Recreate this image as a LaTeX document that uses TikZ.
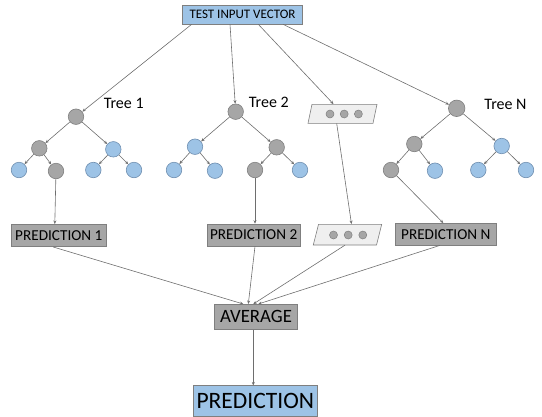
\documentclass[tikz,border=0pt]{standalone}
\usepackage{fontspec}
\setmainfont{Carlito}
\usetikzlibrary{arrows.meta}
\definecolor{leafblue}{HTML}{9DC3E6}
\definecolor{blueedge}{HTML}{6F8FB0}
\definecolor{nodegray}{HTML}{A6A6A6}
\definecolor{grayedge}{HTML}{7F7F7F}
\definecolor{linegray}{HTML}{6E6E6E}
\definecolor{pale}{HTML}{EFEFEF}
\tikzset{
  gnode/.style={circle, fill=nodegray, draw=grayedge, line width=0.6pt, minimum size=15.5pt, inner sep=0pt},
  bnode/.style={circle, fill=leafblue, draw=blueedge, line width=0.6pt, minimum size=15.5pt, inner sep=0pt},
  dot/.style={circle, fill=nodegray, draw=grayedge, line width=0.5pt, minimum size=8pt, inner sep=0pt},
  link/.style={draw=linegray, line width=0.6pt, -{Stealth[length=3.5pt,width=3pt]}},
  graybox/.style={rectangle, fill=nodegray, draw=grayedge, line width=0.6pt, inner sep=0pt, text=black},
  bluebox/.style={rectangle, fill=leafblue, draw=grayedge, line width=0.6pt, inner sep=0pt, text=black},
  hole/.style={rectangle, draw=none, inner sep=0pt},
  slab/.style={fill=pale, draw=grayedge, line width=0.6pt},
  treelabel/.style={anchor=base, inner sep=0pt, font=\fontsize{16}{18}\selectfont}
}
\begin{document}
\begin{tikzpicture}[x=1pt, y=-1pt]
\useasboundingbox (0,0) rectangle (542,416);

% input vector
\node[bluebox, minimum width=120.4pt, minimum height=19pt, font=\fontsize{13}{15}\selectfont] (in) at (242.5,14.5) {TEST INPUT VECTOR};

% tree 1
\node[gnode] (r1) at (76,116.7) {};
\node[gnode] (a1) at (39.3,148.3) {};
\node[bnode] (b1) at (113.3,149.3) {};
\node[bnode] (a1l) at (19,170) {};
\node[gnode] (a1r) at (56,171) {};
\node[bnode] (b1l) at (93.3,170) {};
\node[bnode] (b1r) at (134,170) {};
\node[treelabel] (t1) at (123.7,108.3) {Tree 1};

% tree 2
\node[gnode] (r2) at (235.7,111.7) {};
\node[bnode] (a2) at (195,146.7) {};
\node[gnode] (b2) at (276.7,147.3) {};
\node[bnode] (a2l) at (174,170) {};
\node[bnode] (a2r) at (215,170.7) {};
\node[gnode] (b2l) at (255,170) {};
\node[bnode] (b2r) at (300,170) {};
\node[treelabel] (t2) at (268.8,107.3) {Tree 2};

% tree N
\node[gnode, minimum size=16.5pt] (r3) at (456.7,108.3) {};
\node[gnode] (a3) at (414.3,144) {};
\node[bnode] (b3) at (501.7,146) {};
\node[gnode] (a3l) at (391,170) {};
\node[bnode] (a3r) at (435,170.7) {};
\node[bnode] (b3l) at (478.3,170) {};
\node[bnode] (b3r) at (526,170) {};
\node[treelabel] (t3) at (505.5,109) {Tree N};

% "more trees" placeholders
\node[hole, minimum width=65pt, minimum height=19pt] (e1) at (342.5,113.8) {};
\draw[slab] (312,104.3) -- (377,104.3) -- (373,123.3) -- (308,123.3) -- cycle;
\node[dot] (e1a) at (330,114) {};
\node[dot] (e1b) at (344.2,114) {};
\node[dot] (e1c) at (358.4,114) {};

\node[hole, minimum width=68pt, minimum height=20.7pt] (e2) at (347.5,234.6) {};
\draw[slab] (318.5,224.3) -- (381.7,224.3) -- (376.5,245) -- (313.3,245) -- cycle;
\node[dot] (e2a) at (333.5,235) {};
\node[dot] (e2b) at (348.2,235) {};
\node[dot] (e2c) at (362.8,235) {};

% predictions
\node[graybox, minimum width=94.3pt, minimum height=22.4pt, font=\fontsize{15.2}{17}\selectfont] (p1) at (58.8,235.5) {PREDICTION 1};
\node[graybox, minimum width=92.7pt, minimum height=22pt, font=\fontsize{15.2}{17}\selectfont] (p2) at (253.7,235) {PREDICTION 2};
\node[graybox, minimum width=101.7pt, minimum height=21.7pt, font=\fontsize{15.2}{17}\selectfont] (pn) at (445.8,234.2) {PREDICTION N};

\node[graybox, minimum width=83.4pt, minimum height=25pt, font=\fontsize{18.8}{21}\selectfont] (avg) at (256,316.8) {AVERAGE};
\node[bluebox, minimum width=124pt, minimum height=30.5pt, font=\fontsize{23.5}{26}\selectfont] (out) at (255.3,401) {PREDICTION};

% input to each tree
\draw[link] ([xshift=-50.8pt]in.south) -- (r1);
\draw[link] ([xshift=-12.5pt]in.south) -- (r2);
\draw[link] ([xshift=15.8pt]in.south) -- ([xshift=-9pt]e1.north);
\draw[link] ([xshift=40.5pt]in.south) -- (r3);

% tree edges
\draw[link] (r1) -- (a1);
\draw[link] (r1) -- (b1);
\draw[link] (a1) -- (a1l);
\draw[link] (a1) -- (a1r);
\draw[link] (b1) -- (b1l);
\draw[link] (b1) -- (b1r);

\draw[link] (r2) -- (a2);
\draw[link] (r2) -- (b2);
\draw[link] (a2) -- (a2l);
\draw[link] (a2) -- (a2r);
\draw[link] (b2) -- (b2l);
\draw[link] (b2) -- (b2r);

\draw[link] (r3) -- (a3);
\draw[link] (r3) -- (b3);
\draw[link] (a3) -- (a3l);
\draw[link] (a3) -- (a3r);
\draw[link] (b3) -- (b3l);
\draw[link] (b3) -- (b3r);

% leaves to predictions
\draw[link] (a1r) -- ([xshift=-4pt]p1.north);
\draw[link] (b2l) -- ([xshift=1.3pt]p2.north);
\draw[link] ([xshift=-5.8pt]e1.south) -- ([xshift=4pt]e2.north);
\draw[link] (a3l) -- ([xshift=-2.5pt]pn.north);

% predictions to average
\draw[link] ([xshift=-5.5pt]p1.south) -- ([xshift=-12.7pt]avg.north);
\draw[link] ([xshift=1.3pt]p2.south) -- ([xshift=-7.7pt]avg.north);
\draw[link] ([xshift=-2.5pt]e2.south) -- ([xshift=-2.7pt]avg.north);
\draw[link] ([xshift=-5.8pt]pn.south) -- ([xshift=2.3pt]avg.north);

% average to final prediction
\draw[link] ([xshift=-2.7pt]avg.south) -- ([xshift=-2pt]out.north);
\end{tikzpicture}
\end{document}
